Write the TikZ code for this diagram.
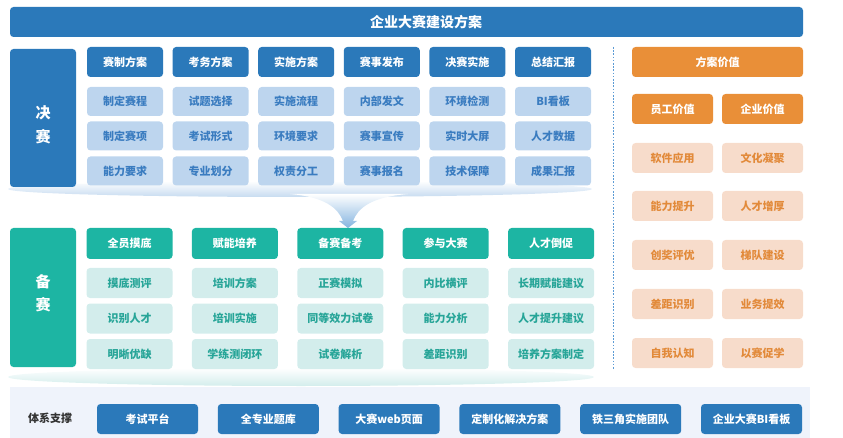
\documentclass[tikz,border=0pt]{standalone}
\usepackage{fontspec}
\setmainfont{Noto Sans CJK SC}
\definecolor{cDB}{HTML}{2B79BA}
\definecolor{cLB}{HTML}{BDD5EE}
\definecolor{cLBt}{HTML}{3A7CC0}
\definecolor{cT}{HTML}{1DB5A3}
\definecolor{cLT}{HTML}{D3EDEC}
\definecolor{cTt}{HTML}{27A598}
\definecolor{cO}{HTML}{E98F38}
\definecolor{cLO}{HTML}{F7DCCB}
\definecolor{cOt}{HTML}{E28A3A}
\definecolor{cSep}{HTML}{5B9BD5}
\definecolor{cBar}{HTML}{EFF3FB}
\tikzset{
  box/.style={rectangle, rounded corners=3.5pt, inner sep=0pt, font=\bfseries\fontsize{11}{13}\selectfont},
  bhdr/.style={box, fill=cDB, text=white, minimum width=76pt, minimum height=30pt},
  bcell/.style={box, fill=cLB, text=cLBt, minimum width=76pt, minimum height=29pt},
  thdr/.style={box, fill=cT, text=white, minimum width=86pt, minimum height=31pt},
  tcell/.style={box, fill=cLT, text=cTt, minimum width=86pt, minimum height=30pt},
  ohdr/.style={box, fill=cO, text=white, minimum height=30pt},
  ocell/.style={box, fill=cLO, text=cOt, minimum width=81pt, minimum height=30pt},
  side/.style={box, minimum width=66pt},
  sidetext/.style={inner sep=0pt, text=white, align=center, font=\bfseries\fontsize{15}{23.5}\selectfont},
  barbtn/.style={box, fill=cDB, text=white, minimum width=101pt, minimum height=30pt},
}
\begin{document}
\begin{tikzpicture}[x=1pt,y=-1pt]
\useasboundingbox (0,0) rectangle (843,438);
% title
\node[box, fill=cDB, minimum width=793pt, minimum height=30pt] (title) at (406.5,22) {};
\node[text=white, inner sep=0pt, font=\bfseries\fontsize{14}{16}\selectfont] (titleText) at (426,22) {企业大赛建设方案};
% shadows
\path[top color=white, bottom color=cLB!85] (300,189) ellipse [x radius=292, y radius=8];
\path[top color=white, bottom color=cLT] (301,377) ellipse [x radius=293, y radius=9];
% funnel
\path[top color=white, bottom color=cSep!75] (290,194) .. controls (325,197) and (338,208) .. (343,221) -- (339,221) -- (348,228) -- (357,221) -- (353,221) .. controls (358,208) and (371,197) .. (408,194) -- cycle;
% final block
\node[side, fill=cDB, minimum height=138pt] (jsLabel) at (43,118) {};
\node[sidetext] (jsText) at (43,125) {决\\赛};
\foreach \h/\a/\b/\c [count=\i from 0] in {赛制方案/制定赛程/制定赛项/能力要求, 考务方案/试题选择/考试形式/专业划分, 实施方案/实施流程/环境要求/权责分工, 赛事发布/内部发文/赛事宣传/赛事报名, 决赛实施/环境检测/实时大屏/技术保障, 总结汇报/BI看板/人才数据/成果汇报}{
  \node[bhdr] (jh\i) at ({125+85.6*\i},62) {\h};
  \node[bcell] (ja\i) at ({125+85.6*\i},101.5) {\a};
  \node[bcell] (jb\i) at ({125+85.6*\i},136) {\b};
  \node[bcell] (jc\i) at ({125+85.6*\i},171) {\c};
}
% preparation block
\node[side, fill=cT, minimum height=139pt] (bsLabel) at (43,297.5) {};
\node[sidetext] (bsText) at (43,293.5) {备\\赛};
\foreach \h/\a/\b/\c [count=\i from 0] in {全员摸底/摸底测评/识别人才/明晰优缺, 赋能培养/培训方案/培训实施/学练测闭环, 备赛备考/正赛模拟/同等效力试卷/试卷解析, 参与大赛/内比横评/能力分析/差距识别, 人才倒促/长期赋能建议/人才提升建议/培养方案制定}{
  \node[thdr] (bh\i) at ({129.5+105.4*\i},243.5) {\h};
  \node[tcell] (ba\i) at ({129.5+105.4*\i},283) {\a};
  \node[tcell] (bb\i) at ({129.5+105.4*\i},318.5) {\b};
  \node[tcell] (bc\i) at ({129.5+105.4*\i},354) {\c};
}
% separator
\coordinate (sepTop) at (613,47);
\coordinate (sepBot) at (613,369);
\draw[cSep, line width=0.9pt, dash pattern=on 1.6pt off 1.6pt] (sepTop) -- (sepBot);
% value panel
\node[ohdr, minimum width=171pt] (val) at (717.5,62) {方案价值};
\node[ohdr, minimum width=81pt] (valE) at (672.5,109) {员工价值};
\node[ohdr, minimum width=81pt] (valC) at (762.5,109) {企业价值};
\foreach \l/\r/\y [count=\i] in {软件应用/文化凝聚/158, 能力提升/人才增厚/206, 创奖评优/梯队建设/255, 差距识别/业务提效/304, 自我认知/以赛促学/353}{
  \node[ocell] (vl\i) at (672.5,\y) {\l};
  \node[ocell] (vr\i) at (762.5,\y) {\r};
}
% bottom bar
\node[rectangle, fill=cBar, inner sep=0pt, minimum width=800pt, minimum height=52pt] (bar) at (410,413) {};
\node[font=\bfseries\fontsize{11}{13}\selectfont, text=black!80] (support) at (50,418) {体系支撑};
\foreach \t [count=\i from 0] in {考试平台, 全专业题库, 大赛web页面, 定制化解决方案, 铁三角实施团队, 企业大赛BI看板}{
  \node[barbtn] (bt\i) at ({147.5+120.8*\i},419) {\t};
}
\end{tikzpicture}
\end{document}
